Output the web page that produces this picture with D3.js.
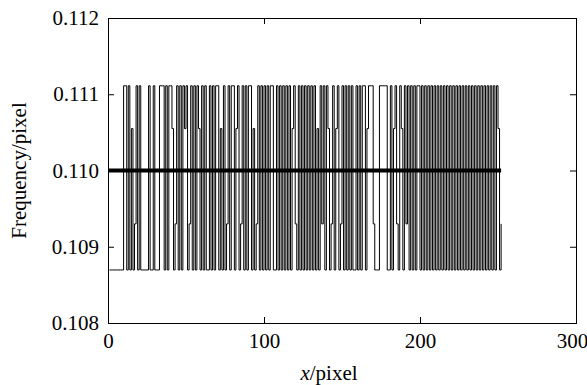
<!DOCTYPE html>
<html><head><meta charset="utf-8">
<script src="https://cdn.jsdelivr.net/npm/d3@7"></script>
<style>body{margin:0;background:#fff}svg{display:block}text{font-family:'Liberation Serif','Times New Roman',serif}</style>
</head><body>
<svg id="c" width="587" height="385"></svg>
<script>
// levels (frequency per pixel)
const levelValues = {H: 1/9, a: 0.11055, M: 1/9.1, b: 0.10930, L: 1/9.2};
// per-pixel level sequence (pixel 1..N)
const levelSequence =
  "LLLLLLLLLHHLHLaLbHLHL" +
  "LLLLHLLHLLLHHHLHLHHaLb" +
  "HLHLHaHLbHLHLHaLHLHLLH" +
  "LHLHHLaLHLbHLHHLaHLbHL" +
  "HLHHLaLbHLHLHLHLHHLLHL" +
  "HLHLHLHLaHbLHLHLHLHLHL" +
  "HLaLHbHLHaLbHLaHLbHLHL" +
  "HLHLLHLHLHHLaHHHbLLLHH" +
  "HHHLLHLaHbLHaLHbHLHLHL" +
  "HHLHLHLHLHLHLHLHLHLHLH" +
  "LHLHLHLHLHLHLHLHLHLHLH" +
  "LHLHLHLHaLb";
const pixels = Array.from(levelSequence, (c, i) => i + 1);
const frequency = Array.from(levelSequence, c => levelValues[c]);
const meanFrequency = 0.110;
const meanRange = [0, pixels[pixels.length - 1]];
const xTicks = [0, 100, 200, 300];
const yTicks = [0.108, 0.109, 0.110, 0.111, 0.112];

const svg = d3.select("#c");
const m = {l: 108, r: 11, t: 18, b: 62};
const W = 587, H = 385;
const x = d3.scaleLinear().domain([0, 300]).range([m.l, W - m.r]);
const y = d3.scaleLinear().domain([0.108, 0.112]).range([H - m.b, m.t]);

const data = pixels.map((p, i) => [p, frequency[i]]);
svg.append("path").datum(data)
  .attr("d", d3.line().x(d => x(d[0])).y(d => y(d[1])).curve(d3.curveStepAfter))
  .attr("fill", "none").attr("stroke", "#000").attr("stroke-width", 1);

svg.append("line")
  .attr("x1", x(meanRange[0])).attr("x2", x(meanRange[1]))
  .attr("y1", y(meanFrequency)).attr("y2", y(meanFrequency))
  .attr("stroke", "#000").attr("stroke-width", 4);

// axes
const gb = svg.append("g").attr("transform", `translate(0,${H - m.b})`)
  .call(d3.axisBottom(x).tickValues(xTicks).tickSize(-6).tickPadding(10).tickFormat(d3.format("d")));
const gt = svg.append("g").attr("transform", `translate(0,${m.t})`)
  .call(d3.axisTop(x).tickValues(xTicks).tickSize(-6).tickFormat(""));
const gl = svg.append("g").attr("transform", `translate(${m.l},0)`)
  .call(d3.axisLeft(y).tickValues(yTicks).tickSize(-6).tickPadding(9).tickFormat(d3.format(".3f")));
const gr = svg.append("g").attr("transform", `translate(${W - m.r},0)`)
  .call(d3.axisRight(y).tickValues(yTicks).tickSize(-6).tickFormat(""));
[gb, gt, gl, gr].forEach(g => {
  g.selectAll("path").attr("stroke", "#000").attr("stroke-width", 1);
  g.selectAll("line").attr("stroke", "#000");
  g.selectAll("text").style("font-family", "'Liberation Serif', serif").attr("font-size", 21).attr("fill", "#000");
});
gb.selectAll(".tick text").filter(d => d === 300).attr("dx", -4);

svg.append("text").attr("x", 329).attr("y", H - 5)
  .attr("text-anchor", "middle").attr("font-size", 21)
  .html('<tspan font-style="italic">x</tspan>/pixel');
svg.append("text").attr("transform", `translate(26,${(m.t + H - m.b) / 2}) rotate(-90)`)
  .attr("text-anchor", "middle").attr("font-size", 21)
  .text("Frequency/pixel");
</script>
</body></html>
